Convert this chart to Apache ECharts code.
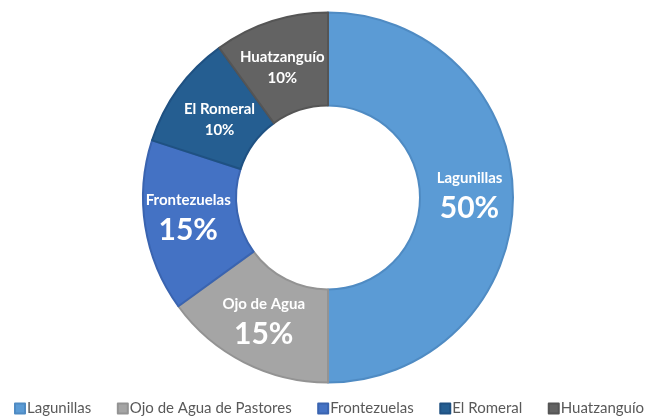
<!DOCTYPE html>
<html>
<head>
<meta charset="utf-8">
<script src="https://cdn.jsdelivr.net/npm/echarts@6/dist/echarts.min.js"></script>
<style>
  html, body { margin: 0; padding: 0; background: #ffffff; }
  #chart { width: 650px; height: 419px; }
</style>
</head>
<body>
<div id="chart"></div>
<script>
// Share of each locality (percent)
const categories = ['Lagunillas', 'Ojo de Agua de Pastores', 'Frontezuelas', 'El Romeral', 'Huatzanguío'];
const sliceLabels = ['Lagunillas', 'Ojo de Agua', 'Frontezuelas', 'El Romeral', 'Huatzanguío'];
const values = [50, 15, 15, 10, 10];

const fills = ['#5B9BD5', '#A5A5A5', '#4472C4', '#255E91', '#636363'];
const edges = ['#4F8BC3', '#939393', '#3A64B0', '#1F5182', '#555555'];

const FONT = 'Lato, "Open Sans", sans-serif';

// small nudges for the two narrow sectors' labels
const labelNudge = { 'El Romeral': [6, 5], 'Huatzanguío': [-2, 4] };

const pieData = categories.map((name, i) => {
  const big = values[i] >= 15;
  const item = {
    name: name,
    value: values[i],
    itemStyle: { color: fills[i], borderColor: edges[i], borderWidth: 2 },
    label: {
      formatter: (p) => '{n|' + sliceLabels[p.dataIndex] + '}\n' +
        (big ? '{pb|' : '{ps|') + Math.round(p.percent) + '%}'
    }
  };
  if (labelNudge[name]) item.label.offset = labelNudge[name];
  return item;
});

const chart = echarts.init(document.getElementById('chart'), null, { renderer: 'canvas' });
chart.setOption({
  animation: false,
  backgroundColor: '#ffffff',
  legend: {
    data: categories,
    left: 14,
    width: 636,
    bottom: 0,
    padding: [0, 0, 3, 0],
    icon: 'rect',
    itemWidth: 10,
    itemHeight: 10,
    itemGap: 25.5,
    textStyle: { color: '#595959', fontSize: 15, fontFamily: FONT, padding: [0, 0, 0, -3] }
  },
  series: [{
    type: 'pie',
    center: [328, 197.5],
    radius: [92, 185],
    startAngle: 90,
    clockwise: true,
    avoidLabelOverlap: false,
    label: {
      show: true,
      position: 'inside',
      color: '#ffffff',
      fontFamily: FONT,
      fontWeight: 'bold',
      rich: {
        n: { color: '#ffffff', fontFamily: FONT, fontWeight: 'bold', fontSize: 15, lineHeight: 22 },
        pb: { color: '#ffffff', fontFamily: FONT, fontWeight: 'bold', fontSize: 30, lineHeight: 38 },
        ps: { color: '#ffffff', fontFamily: FONT, fontWeight: 'bold', fontSize: 15, lineHeight: 20 }
      }
    },
    labelLine: { show: false },
    emphasis: { disabled: true },
    data: pieData
  }]
});
</script>
</body>
</html>
